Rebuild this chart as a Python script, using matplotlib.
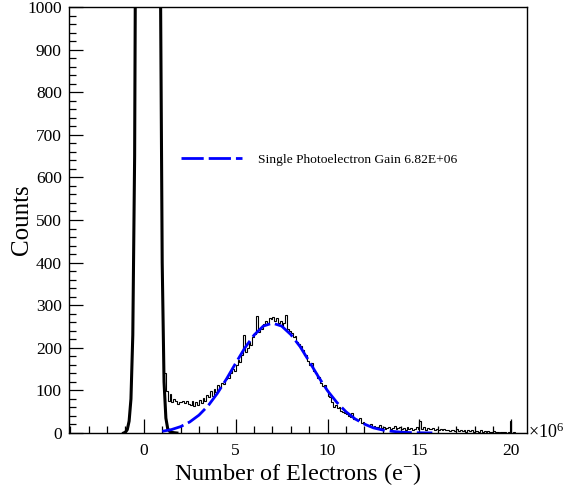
#!/usr/bin/env python3
"""Single photoelectron spectrum: pedestal fit, SPE histogram and gain fit."""
import matplotlib
matplotlib.use("Agg")
import matplotlib.pyplot as plt
import numpy as np

plt.rcParams["font.family"] = "serif"
plt.rcParams["font.serif"] = ["Liberation Serif", "DejaVu Serif"]
plt.rcParams["mathtext.fontset"] = "custom"
plt.rcParams["mathtext.rm"] = "Liberation Serif"
plt.rcParams["mathtext.it"] = "Liberation Serif:italic"

# histogram (units of 1e6 electrons), bin width 0.1 starting at 1.1
HIST_START = 1.1
BIN_WIDTH = 0.1
counts = [
    140, 98, 75, 92, 72, 80, 74, 68, 72,                 # 1.1 - 1.9
    72, 74, 70, 76, 68, 66, 74, 63, 72, 66,              # 2.0 - 2.9
    78, 70, 82, 76, 90, 84, 98, 88, 104, 96,             # 3.0 - 3.9
    112, 108, 118, 114, 126, 132, 128, 142, 150, 146,    # 4.0 - 4.9
    160, 172, 166, 184, 230, 190, 200, 214, 206, 226,    # 5.0 - 5.9
    232, 274, 238, 246, 244, 256, 262, 258, 270, 268,    # 6.0 - 6.9
    272, 264, 270, 258, 262, 252, 258, 276, 244, 240,    # 7.0 - 7.9
    234, 226, 228, 214, 210, 204, 196, 182, 184, 168,    # 8.0 - 8.9
    160, 164, 146, 140, 128, 132, 118, 110, 112, 100,    # 9.0 - 9.9
    88, 84, 72, 62, 66, 58, 60, 52, 50, 46,              # 10.0 - 10.9
    44, 40, 38, 46, 34, 32, 30, 36, 24, 26,              # 11.0 - 11.9
    22, 18, 16, 20, 14, 16, 13, 14, 18, 12,              # 12.0 - 12.9
    14, 10, 12, 14, 10, 12, 16, 9, 12, 14,               # 13.0 - 13.9
    10, 12, 8, 14, 10, 12, 8, 10, 14, 9,                 # 14.0 - 14.9
    28, 10, 14, 8, 12, 10, 9, 12, 8, 10,                 # 15.0 - 15.9
    6, 9, 7, 10, 6, 8, 5, 7, 6, 4,                       # 16.0 - 16.9
    9, 5, 6, 4, 7, 3, 6, 5, 7, 3,                        # 17.0 - 17.9
    5, 4, 3, 6, 2, 4, 3, 5, 2, 3,                        # 18.0 - 18.9
    4, 2, 3, 1, 3, 2, 2, 1, 2, 28,                       # 19.0 - 19.9
    1, 2, 1, 0, 1, 0, 1, 0,                              # 20.0 - 20.7
]

# pedestal fit curve (top clipped at 1000)
ped_x = [-1.1, -1.0, -0.9, -0.8, -0.7, -0.6, -0.5, -0.4, -0.3, 0.0, 0.25,
         0.5, 0.7, 0.8, 0.9, 1.0, 1.1, 1.2, 1.3, 1.4, 1.5, 1.6, 1.8]
ped_y = [0, 2, 8, 28, 80, 230, 650, 1700, 4000, 20000, 32000,
         20000, 6000, 2600, 1100, 400, 120, 35, 10, 4, 2, 1, 0]

# single photoelectron fit curve
spe_x = [1.0, 1.5, 2.0, 2.5, 3.0, 3.5, 4.0, 4.5, 5.0, 5.5, 6.0, 6.5, 7.0,
         7.5, 8.0, 8.5, 9.0, 9.5, 10.0, 10.5, 11.0, 11.5, 12.0, 12.5,
         13.0, 13.5, 14.0, 14.5, 15.0, 15.7]
spe_y = [4, 8, 15, 26, 42, 64, 93, 127, 164, 200, 230, 251, 258,
         251, 231, 203, 168, 132, 99, 72, 50, 33, 21, 12,
         7, 4, 2, 1, 0.5, 0.2]
GAIN_LABEL = "Single Photoelectron Gain 6.82E+06"

edges = HIST_START + BIN_WIDTH * np.arange(len(counts) + 1)

fig = plt.figure(figsize=(5.66, 4.90), dpi=100)
ax = fig.add_axes([0.1226, 0.1163, 0.9311 - 0.1226, 0.9857 - 0.1163])

ax.stairs(counts, edges, baseline=None, color="black", lw=0.8)
ax.plot(ped_x, ped_y, color="black", lw=2.2, solid_joinstyle="round")
ax.plot(spe_x, spe_y, color="#0000ff", lw=2.0, ls=(0, (8, 1.8)),
        label=GAIN_LABEL)

ax.set_xlim(-4.05, 20.85)
ax.set_ylim(0, 1000)
ax.set_xticks([0, 5, 10, 15, 20])
ax.set_xticks(np.arange(-4, 21, 1), minor=True)
ax.set_yticks(np.arange(0, 1001, 100))
ax.set_yticks(np.arange(0, 1001, 20), minor=True)
ax.tick_params(which="both", direction="in", top=False, right=False,
               labelsize=12.5)
ax.tick_params(which="major", length=10, width=0.9)
ax.tick_params(which="minor", length=5, width=0.9)
ax.tick_params(axis="y", pad=5.5)
ax.tick_params(axis="x", pad=7)
for sp in ax.spines.values():
    sp.set_linewidth(1.0)

ax.set_xlabel(r"Number of Electrons (e$^{-}$)", fontsize=17.5, labelpad=2)
ax.set_ylabel("Counts", fontsize=18, labelpad=-4)
# axis exponent, ROOT style, just right of the x axis end
ax.annotate(r"$\times10^{6}$", xy=(1.0, 0.0), xycoords="axes fraction",
            xytext=(1, -3.5), textcoords="offset points",
            ha="left", va="baseline", fontsize=13)

ax.legend(loc="center left", bbox_to_anchor=(0.244, 0.641), frameon=False,
          fontsize=9.7, handlelength=4.5, handletextpad=1.2, borderpad=0,
          borderaxespad=0)

fig.savefig("out.png", dpi=100)
